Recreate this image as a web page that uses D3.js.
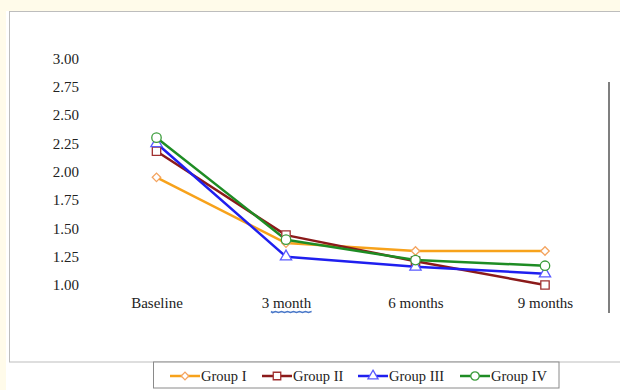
<!DOCTYPE html>
<html>
<head>
<meta charset="utf-8">
<script src="https://cdn.jsdelivr.net/npm/d3@7"></script>
<style>
html,body{margin:0;padding:0;background:#fffbea;}
svg{display:block;}
text{font-family:"Liberation Serif","Times New Roman",serif;fill:#222;}
</style>
</head>
<body>
<svg id="chart" width="620" height="390"></svg>
<script>
const categories = ["Baseline", "3 month", "6 months", "9 months"];
const seriesNames = ["Group I", "Group II", "Group III", "Group IV"];
const groupI   = [1.95, 1.37, 1.30, 1.30];
const groupII  = [2.18, 1.44, 1.21, 1.00];
const groupIII = [2.25, 1.25, 1.16, 1.10];
const groupIV  = [2.30, 1.40, 1.22, 1.17];
const yTicks = [1.00, 1.25, 1.50, 1.75, 2.00, 2.25, 2.50, 2.75, 3.00];

const colors = ["#f7a21b", "#8b1a1a", "#1f1fef", "#1e8c24"];
const markerColors = ["#f4a460", "#a03030", "#5a5aff", "#3a9c3a"];
const symbols = [d3.symbolSquare, d3.symbolSquare, d3.symbolTriangle, d3.symbolCircle];
const symRot = [45, 0, 0, 0];
const symSizes = [36, 70, 55, 70];
const series = [groupI, groupII, groupIII, groupIV];

const svg = d3.select("#chart");

// background panels
svg.append("rect").attr("x", 6).attr("y", 11).attr("width", 620).attr("height", 390).attr("fill", "#ffffff");
svg.append("rect").attr("x", 9.5).attr("y", 11.5).attr("width", 620).attr("height", 350.5)
  .attr("fill", "#ffffff").attr("stroke", "#bdbdbd").attr("stroke-width", 1);

const x = d3.scalePoint().domain(categories).range([156.5, 545]);
const y = d3.scaleLinear().domain([1, 3]).range([285, 58.3]);

// y axis labels
const yAxis = svg.append("g").attr("transform", "translate(79,0)")
  .call(d3.axisLeft(y).tickValues(yTicks).tickSize(0).tickPadding(0).tickFormat(d3.format(".2f")));
yAxis.select(".domain").remove();
yAxis.selectAll("text").attr("font-family", "Liberation Serif, serif").attr("font-size", 15).attr("fill", "#222");

// x axis labels
const xAxis = svg.append("g").attr("transform", "translate(0,297)")
  .call(d3.axisBottom(x).tickSize(0).tickPadding(0));
xAxis.select(".domain").remove();
xAxis.selectAll("text").attr("font-family", "Liberation Serif, serif").attr("font-size", 15).attr("fill", "#222");

// spell-check underline under "month"
const sq = d3.path();
const sx0 = x("3 month") - 15, sx1 = x("3 month") + 25;
sq.moveTo(sx0, 311.5);
for (let xx = sx0; xx < sx1; xx += 3) sq.lineTo(xx + 1.5, (Math.round((xx - sx0) / 3) % 2) ? 311.5 : 312.5);
sq.lineTo(sx1, 311.5);
svg.append("path").attr("d", sq.toString()).attr("fill", "none").attr("stroke", "#4a78c8").attr("stroke-width", 1.6);

// right vertical line
svg.append("line").attr("x1", 609).attr("x2", 609).attr("y1", 82).attr("y2", 313)
  .attr("stroke", "#555").attr("stroke-width", 1.5);

// lines
const line = d3.line().x((d, i) => x(categories[i])).y(d => y(d));
series.forEach((s, k) => {
  svg.append("path").datum(s).attr("d", line).attr("fill", "none")
    .attr("stroke", colors[k]).attr("stroke-width", 2.5).attr("stroke-linejoin", "round");
});
series.forEach((s, k) => {
  svg.selectAll(null).data(s).enter().append("path")
    .attr("d", d3.symbol().type(symbols[k]).size(symSizes[k]))
    .attr("transform", (d, i) => `translate(${x(categories[i])},${y(d)}) rotate(${symRot[k]})`)
    .attr("fill", "#ffffff").attr("stroke", markerColors[k]).attr("stroke-width", 1.3);
});

// legend
const lg = svg.append("g");
lg.append("rect").attr("x", 153.5).attr("y", 362).attr("width", 405.5).attr("height", 26)
  .attr("fill", "#ffffff").attr("stroke", "#8a8a8a").attr("stroke-width", 1);
const legX = [170, 262, 358, 460];
seriesNames.forEach((n, k) => {
  const g = lg.append("g").attr("transform", `translate(${legX[k]},376)`);
  g.append("line").attr("x1", 0).attr("x2", 30).attr("y1", 0).attr("y2", 0)
    .attr("stroke", colors[k]).attr("stroke-width", 2.5);
  g.append("path").attr("d", d3.symbol().type(symbols[k]).size(symSizes[k] * 0.8))
    .attr("transform", `translate(15,0) rotate(${symRot[k]})`)
    .attr("fill", "#ffffff").attr("stroke", markerColors[k]).attr("stroke-width", 1.3);
  g.append("text").attr("x", 31).attr("y", 5).attr("font-size", 14.5).text(n);
});
</script>
</body>
</html>
